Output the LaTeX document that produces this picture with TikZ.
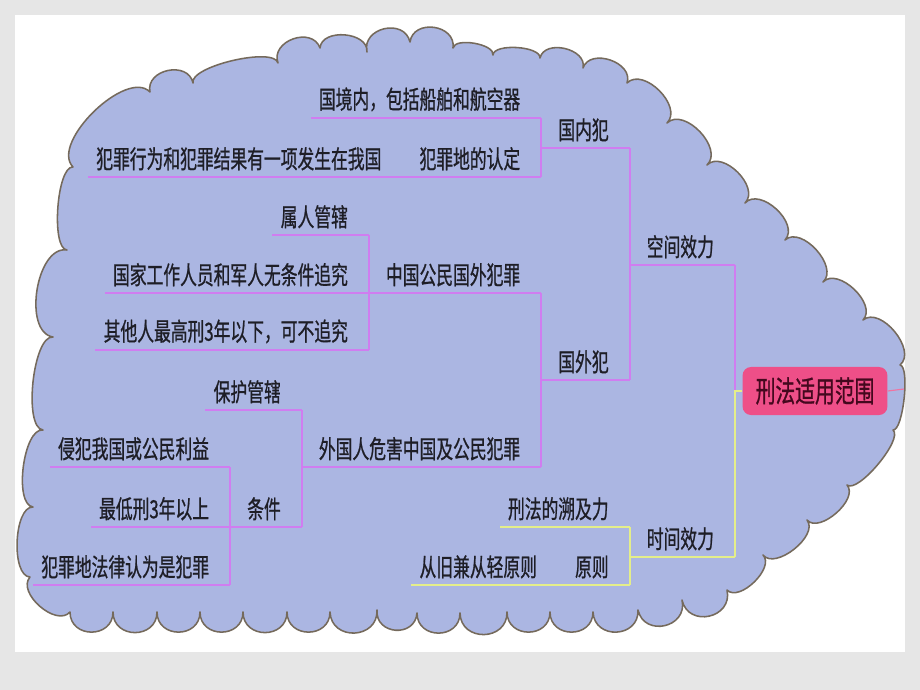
\documentclass[tikz,border=0pt]{standalone}
\usepackage{fontspec}
\newfontfamily\cjk[FakeStretch=0.67, FakeBold=0.8]{Noto Sans CJK SC}
\usetikzlibrary{calc}
\definecolor{slide}{HTML}{E6E6E6}
\definecolor{cloudfill}{HTML}{ABB6E2}
\definecolor{cloudline}{HTML}{756A5C}
\definecolor{mline}{HTML}{D07DF0}
\definecolor{yline}{HTML}{E4EE8A}
\definecolor{rootfill}{HTML}{EE4F88}
\definecolor{roottext}{HTML}{44081E}
\definecolor{txt}{HTML}{1E1E26}
\tikzstyle{lbl}=[font=\cjk\fontsize{17.8}{20}\selectfont, text=txt, inner xsep=0pt, inner ysep=4.5pt, anchor=south east, execute at end node={\hspace*{5.2mm}}]
\tikzstyle{leaf}=[lbl, execute at begin node={\hspace*{2mm}}]
\tikzstyle{brn}=[lbl, execute at begin node={\hspace*{4.2mm}}]
\tikzstyle{mag}=[draw=mline, line width=1.3pt]
\tikzstyle{yel}=[draw=yline, line width=1.3pt]

\begin{document}
\begin{tikzpicture}[x=0.025cm, y=-0.025cm]
\fill[slide] (0,0) rectangle (920,690);
\fill[white] (15,15) rectangle (905,652);
\useasboundingbox (0,0) rectangle (920,690);
\tikzstyle{root}=[rectangle, rounded corners=6pt, fill=rootfill, minimum width=3.62cm, minimum height=1.2cm, font=\cjk\fontsize{21}{23}\selectfont, text=roottext]

% cloud
\draw[draw=cloudline, fill=cloudfill, line width=1.1pt, line join=round] (67,250)
  foreach \x/\y/\l in {73/167/0.5, 150/92/0.8, 193/83/1.35, 278/63/0.5, 320/48/1.35,
    367/52/1.1, 410/42/1.45, 453/48/1.4, 493/55/0.7, 540/58/0.65, 583/68/1.15,
    627/83/1.2, 667/123/1.05, 707/165/1.05, 745/203/1.05, 785/240/1.05, 823/282/1.0,
    863/320/1.0, 900/365/1.0, 893/430/0.4, 847/485/0.5, 807/520/0.9, 763/555/0.9,
    727/590/0.9, 682/600/1.6, 638/610/1.6, 593/612/1.6, 550/612/1.6, 507/612/1.6,
    460/613/1.6, 417/613/1.6, 377/610/1.6, 330/612/1.6, 287/612/1.6, 243/612/1.6,
    200/612/1.6, 157/612/1.6, 113/612/1.6, 70/612/1.6, 30/577/1.0, 33/507/0.7,
    43/430/0.65, 53/337/0.55, 67/250/0.9}
  { to[bend left=90, looseness=\l] (\x,\y) } -- cycle;

\node[root] (r) at (815,391) {刑法适用范围};
\node[brn] (kj) at (735,265) {空间效力};
\node[brn] (sj) at (735,557) {时间效力};

\node[brn] (gn) at (kj.south west |- 0,148) {国内犯};
\node[brn] (gw) at (kj.south west |- 0,380) {国外犯};
\node[leaf] (jn) at (gn.south west |- 0,118) {国境内，包括船舶和航空器};
\node[brn] (rd) at (gn.south west |- 0,177) {犯罪地的认定};
\node[leaf] (xw) at (rd.south west) {犯罪行为和犯罪结果有一项发生在我国};

\node[brn] (zg) at (gw.south west |- 0,293) {中国公民国外犯罪};
\node[leaf] (sr) at (zg.south west |- 0,235) {属人管辖};
\node[leaf] (gj) at (zg.south west) {国家工作人员和军人无条件追究};
\node[leaf] (qt) at (zg.south west |- 0,350) {其他人最高刑3年以下，可不追究};

\node[brn] (wg) at (gw.south west |- 0,467) {外国人危害中国及公民犯罪};
\node[leaf] (bh) at (wg.south west |- 0,410) {保护管辖};
\node[brn] (tj) at (wg.south west |- 0,527) {条件};
\node[leaf] (qf) at (tj.south west |- 0,467) {侵犯我国或公民利益};
\node[leaf] (zd) at (tj.south west) {最低刑3年以上};
\node[leaf] (fz) at (tj.south west |- 0,585) {犯罪地法律认为是犯罪};

\node[leaf] (sy) at (sj.south west |- 0,527) {刑法的溯及力};
\node[brn] (yz) at (sj.south west |- 0,585) {原则};
\node[leaf] (cj) at (yz.south west) {从旧兼从轻原则};

% underlines
\foreach \n in {kj,gn,gw,jn,rd,xw,zg,sr,gj,qt,wg,bh,tj,qf,zd,fz}
  \draw[mag] (\n.south west) -- (\n.south east);
\foreach \n in {sj,sy,yz,cj}
  \draw[yel] (\n.south west) -- (\n.south east);

% branches
\draw[mag] (r.west) -| (kj.south east);
\draw[yel] (r.west) -| (sj.south east);
\path[mag] (kj.south west) edge (gn.south east) edge (gw.south east);
\path[mag] (gn.south west) edge (jn.south east) edge (rd.south east);
\path[mag] (gw.south west) edge (zg.south east) edge (wg.south east);
\path[mag] (zg.south west) edge (sr.south east) edge (qt.south east);
\path[mag] (wg.south west) edge (bh.south east) edge (tj.south east);
\path[mag] (tj.south west) edge (qf.south east) edge (fz.south east);
\path[yel] (sj.south west) edge (sy.south east) edge (yz.south east);
\coordinate (rs) at (904,389);
\draw[draw=rootfill!80!white, line width=0.8pt] (r.east) -- (rs);
\end{tikzpicture}
\end{document}
